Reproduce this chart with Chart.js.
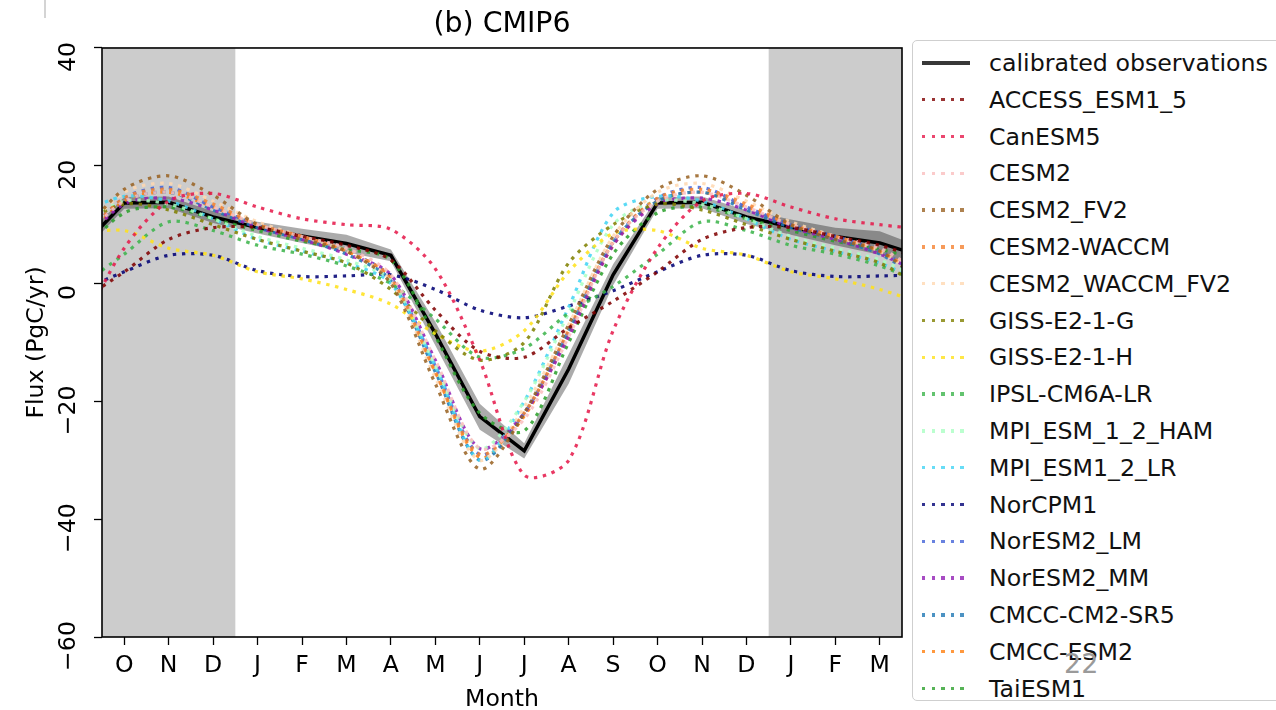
<!DOCTYPE html>
<html>
<head>
<meta charset="utf-8">
<script src="https://cdn.jsdelivr.net/npm/chart.js@4.4.1/dist/chart.umd.min.js"></script>
<style>
body { margin: 0; background: #fff; overflow: hidden; width: 1276px; height: 710px; position: relative; font-family: "DejaVu Sans", sans-serif; }
#wrap { position: absolute; left: 0; top: 0; }
#legend { position: absolute; left: 912px; top: 40px; width: 390px; height: 661px; border: 1px solid #cfcfcf; border-radius: 5px; background: #fff; box-sizing: border-box; padding-top: 3.6px; }
#legend ul { list-style: none; margin: 0; padding: 0; }
#legend li { height: 36.8px; display: flex; align-items: center; }
#legend .handle { width: 48px; height: 3.4px; margin-left: 9px; flex-shrink: 0; }
#legend .txt { margin-left: 19px; font-size: 23.7px; color: #111; white-space: nowrap; }
#pageno { position: absolute; left: 1064px; top: 648px; font-size: 27px; color: #9a9a9a; }
#mark { position: absolute; left: 44px; top: 0; width: 2px; height: 18px; background: #d4d4d4; }
</style>
</head>
<body>
<div id="mark"></div>
<div id="wrap"><canvas id="flux" width="912" height="714"></canvas></div>
<div id="legend"></div>
<div id="pageno">22</div>
<script>
// x positions run from Sep (-1) to Apr (18); ticks O..M at 0..17
const monthTicks = ['O', 'N', 'D', 'J', 'F', 'M', 'A', 'M', 'J', 'J', 'A', 'S', 'O', 'N', 'D', 'J', 'F', 'M'];
const xPositions = [-1, 0, 1, 2, 3, 4, 5, 6, 7, 8, 9, 10, 11, 12, 13, 14, 15, 16, 17, 18];
// calendar month (0 = Jan) shown at each x position
const calendarMonth = [8, 9, 10, 11, 0, 1, 2, 3, 4, 5, 6, 7, 8, 9, 10, 11, 0, 1, 2, 3];
const fluxTicks = [-60, -40, -20, 0, 20, 40];
const shadedSpans = [[-0.5, 2.5], [14.5, 17.5]];

// calibrated observations, one value per x position
const obsFlux = [5.9, 13.7, 13.8, 11.3, 9.5, 8.1, 6.8, 4.8, -8.5, -22.6, -28.4, -14.5, 1.5, 13.7, 13.8, 11.3, 9.6, 8.0, 6.9, 4.5];
const obsSpread = [1.2, 1.0, 1.0, 1.0, 1.0, 1.2, 1.5, 1.0, 2.0, 2.2, 1.3, 2.5, 1.8, 1.0, 1.0, 1.2, 1.3, 1.5, 2.0, 1.5];

// model climatologies, Jan..Dec
const accessEsm15   = [9.5, 8.0, 6.5, 4.0, -4.5, -11.5, -12.5, -7.5, -3.0, 2.0, 7.5, 9.5];
const canEsm5       = [13.0, 11.0, 10.0, 9.2, 2.5, -13.0, -32.5, -30.0, -8.0, 6.0, 14.0, 15.3];
const cesm2         = [10.0, 8.0, 6.0, 1.5, -13.0, -28.0, -23.0, -9.0, 7.0, 14.0, 15.5, 13.0];
const cesm2Fv2      = [10.0, 7.5, 5.5, 0.0, -17.0, -31.5, -22.0, -7.0, 8.0, 16.0, 18.3, 15.0];
const cesm2Waccm    = [10.0, 8.0, 5.5, 1.0, -15.0, -29.0, -22.0, -8.0, 7.0, 14.5, 16.0, 13.5];
const cesm2WaccmFv2 = [10.5, 8.0, 5.5, 0.5, -16.0, -30.0, -21.0, -7.0, 8.0, 15.5, 17.0, 14.0];
const gissE21G      = [7.5, 5.5, 3.5, -1.0, -8.0, -13.0, -10.0, 3.5, 10.0, 13.5, 12.5, 10.0];
const gissE21H      = [2.0, 0.8, -1.0, -3.5, -8.5, -11.5, -8.0, 2.0, 8.5, 9.0, 6.0, 4.8];
const ipslCm6aLr    = [6.5, 5.0, 3.0, 0.0, -6.0, -12.5, -11.0, -5.0, -0.5, 5.0, 10.5, 9.0];
const mpiEsm12Ham   = [8.0, 6.0, 4.0, 0.5, -14.0, -28.0, -20.0, -5.0, 10.0, 14.0, 13.5, 11.0];
const mpiEsm12Lr    = [7.5, 5.5, 3.5, 0.0, -14.0, -30.0, -20.0, -4.0, 12.0, 14.8, 14.0, 11.0];
const norCpm1       = [2.2, 1.2, 1.3, 1.5, -1.0, -4.5, -5.8, -3.8, -1.2, 2.0, 4.8, 4.8];
const norEsm2Lm     = [10.0, 8.0, 5.5, 1.0, -14.0, -29.0, -22.0, -8.0, 7.0, 14.5, 16.3, 13.0];
const norEsm2Mm     = [9.5, 7.5, 5.0, 1.5, -13.0, -28.0, -22.0, -9.0, 6.5, 13.5, 14.5, 12.5];
const cmccCm2Sr5    = [9.5, 7.5, 5.0, 0.5, -15.0, -30.0, -22.0, -8.0, 7.0, 14.0, 15.5, 12.5];
const cmccEsm2      = [10.0, 8.0, 5.5, 1.0, -15.0, -29.5, -22.5, -8.5, 6.5, 14.0, 15.5, 13.0];
const taiEsm1       = [9.0, 7.2, 5.8, 4.0, -9.0, -22.0, -25.0, -10.0, 5.0, 12.0, 13.0, 11.0];

const modelNames = ['ACCESS_ESM1_5', 'CanESM5', 'CESM2', 'CESM2_FV2', 'CESM2-WACCM', 'CESM2_WACCM_FV2',
    'GISS-E2-1-G', 'GISS-E2-1-H', 'IPSL-CM6A-LR', 'MPI_ESM_1_2_HAM', 'MPI_ESM1_2_LR', 'NorCPM1',
    'NorESM2_LM', 'NorESM2_MM', 'CMCC-CM2-SR5', 'CMCC-ESM2', 'TaiESM1'];
const modelColors = ['#800000', '#e6194b', '#fabebe', '#9a6324', '#f58231', '#ffd8b1',
    '#808000', '#ffe119', '#3cb44b', '#aaffc3', '#42d4f4', '#000075',
    '#4363d8', '#911eb4', '#1f77b4', '#ff7f0e', '#2ca02c'];
const modelSeries = [accessEsm15, canEsm5, cesm2, cesm2Fv2, cesm2Waccm, cesm2WaccmFv2,
    gissE21G, gissE21H, ipslCm6aLr, mpiEsm12Ham, mpiEsm12Lr, norCpm1,
    norEsm2Lm, norEsm2Mm, cmccCm2Sr5, cmccEsm2, taiEsm1];

const textFont = {family: '"DejaVu Sans", sans-serif', size: 23.6, weight: 'normal'};

function toPoints(values) {
    return xPositions.map((x, i) => ({x: x, y: values[i]}));
}

const datasets = [];
modelSeries.forEach(function (series, m) {
    datasets.push({
        label: modelNames[m],
        data: toPoints(calendarMonth.map(c => series[c])),
        borderColor: modelColors[m] + 'dd',
        borderWidth: 3.2,
        borderDash: [3.4, 5.7],
        borderCapStyle: 'butt',
        pointRadius: 0,
        tension: 0.3,
        fill: false,
        clip: 0,
        order: 0
    });
});
datasets.push({
    label: 'obs low',
    data: toPoints(obsFlux.map((v, i) => v - obsSpread[i])),
    borderWidth: 0,
    pointRadius: 0,
    fill: false,
    clip: 0,
    order: 3
});
datasets.push({
    label: 'obs high',
    data: toPoints(obsFlux.map((v, i) => v + obsSpread[i])),
    borderWidth: 0,
    pointRadius: 0,
    fill: '-1',
    backgroundColor: 'rgba(0,0,0,0.33)',
    clip: 0,
    order: 3
});
datasets.push({
    label: 'calibrated observations',
    data: toPoints(obsFlux),
    borderColor: '#000',
    borderWidth: 3.5,
    pointRadius: 0,
    tension: 0,
    fill: false,
    clip: 0,
    order: 2
});

const backdropPlugin = {
    id: 'backdrop',
    beforeDatasetsDraw(chart) {
        const {ctx, chartArea, scales} = chart;
        ctx.save();
        ctx.fillStyle = '#cccccc';
        shadedSpans.forEach(function (s) {
            const x0 = scales.x.getPixelForValue(s[0]);
            const x1 = scales.x.getPixelForValue(s[1]);
            ctx.fillRect(x0, chartArea.top, x1 - x0, chartArea.bottom - chartArea.top);
        });
        ctx.restore();
    },
    afterDraw(chart) {
        const {ctx, chartArea} = chart;
        ctx.save();
        ctx.strokeStyle = '#000';
        ctx.lineWidth = 1.6;
        ctx.strokeRect(chartArea.left, chartArea.top, chartArea.right - chartArea.left, chartArea.bottom - chartArea.top);
        ctx.restore();
    }
};

const chart = new Chart(document.getElementById('flux'), {
    type: 'line',
    data: {datasets: datasets},
    options: {
        responsive: false,
        animation: false,
        layout: {padding: {left: 0, right: 10, top: 0, bottom: 0}},
        plugins: {
            legend: {display: false},
            tooltip: {enabled: false},
            title: {
                display: true,
                text: '(b) CMIP6',
                fullSize: false,
                color: '#000',
                font: {family: '"DejaVu Sans", sans-serif', size: 28.4, weight: 'normal'},
                padding: {top: 7.5, bottom: 6.4}
            }
        },
        scales: {
            x: {
                type: 'linear',
                min: -0.5,
                max: 17.5,
                afterBuildTicks: function (s) {
                    s.ticks = monthTicks.map((t, i) => ({value: i}));
                },
                ticks: {
                    autoSkip: false,
                    maxRotation: 0,
                    padding: 7,
                    color: '#000',
                    font: textFont,
                    callback: (value, index) => monthTicks[index]
                },
                grid: {drawOnChartArea: false, tickLength: 8, tickColor: '#000', tickWidth: 1.3},
                border: {display: false},
                title: {display: true, text: 'Month', color: '#000', font: textFont, padding: {top: 0, bottom: 0}},
                afterFit: function (s) { s.height = 77; }
            },
            y: {
                min: -60,
                max: 40,
                afterBuildTicks: function (s) {
                    s.ticks = fluxTicks.map(v => ({value: v}));
                },
                afterCalculateLabelRotation: function (s) { s.labelRotation = 90; },
                ticks: {
                    crossAlign: 'center',
                    padding: 0,
                    labelOffset: 9,
                    color: '#000',
                    font: textFont,
                    callback: v => String(v).replace('-', '\u2212')
                },
                grid: {drawOnChartArea: false, tickLength: 8, tickColor: '#000', tickWidth: 1.3},
                border: {display: false},
                title: {display: true, text: 'Flux (PgC/yr)', color: '#000', font: textFont, padding: {top: 23, bottom: 0}},
                afterFit: function (s) { s.width = 102; }
            }
        }
    },
    plugins: [backdropPlugin]
});

// legend built as html, like the plot's own legend box
const ul = document.createElement('ul');
function addLegendRow(name, background) {
    const li = document.createElement('li');
    const handle = document.createElement('span');
    handle.className = 'handle';
    handle.style.background = background;
    const txt = document.createElement('span');
    txt.className = 'txt';
    txt.textContent = name;
    li.appendChild(handle);
    li.appendChild(txt);
    ul.appendChild(li);
}
addLegendRow('calibrated observations', 'rgba(0,0,0,0.78)');
modelNames.forEach(function (name, m) {
    const c = modelColors[m] + 'cc';
    addLegendRow(name, 'repeating-linear-gradient(to right, ' + c + ' 0px, ' + c + ' 3.4px, transparent 3.4px, transparent 9.6px)');
});
document.getElementById('legend').appendChild(ul);
</script>
</body>
</html>
